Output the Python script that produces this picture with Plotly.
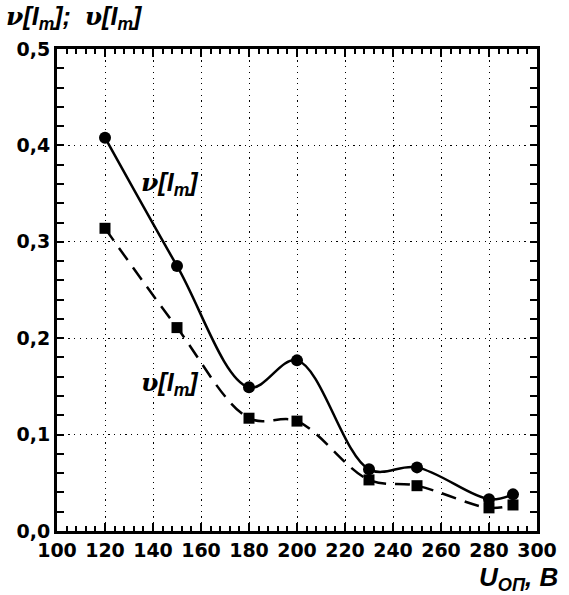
import plotly.graph_objects as go

# Data
u_op = [120, 150, 180, 200, 230, 250, 280, 290]
nu_vals = [0.408, 0.275, 0.149, 0.177, 0.064, 0.066, 0.033, 0.038]
upsilon_vals = [0.314, 0.211, 0.117, 0.114, 0.053, 0.047, 0.024, 0.027]

x_range = [100, 300]
y_range = [0.0, 0.5]
x_major, x_minor = 20, 4
y_major, y_minor = 0.1, 0.02

FONT = "Liberation Sans"

fig = go.Figure()
fig.add_trace(go.Scatter(
    x=u_op, y=nu_vals, mode="lines+markers",
    line=dict(color="black", width=2.5, shape="spline", smoothing=1.0),
    marker=dict(symbol="circle", size=12, color="black"),
    showlegend=False))
fig.add_trace(go.Scatter(
    x=u_op, y=upsilon_vals, mode="lines+markers",
    line=dict(color="black", width=2.5, shape="spline", smoothing=1.0, dash="15px,9px"),
    marker=dict(symbol="square", size=11, color="black"),
    showlegend=False))

axis_common = dict(
    showline=True, linecolor="black", linewidth=3, mirror="ticks",
    ticks="inside", tickcolor="black", tickwidth=1.5,
    showgrid=True, gridcolor="black", gridwidth=1.2, griddash="1.2px,4.5px",
    zeroline=False,
    tickfont=dict(family="DejaVu Sans", size=19, color="black", weight="bold"),
)

fig.update_xaxes(range=x_range, tickmode="linear", tick0=x_range[0], dtick=x_major, ticklen=8,
                 minor=dict(tickmode="linear", tick0=x_range[0], dtick=x_minor, ticks="inside", ticklen=5,
                            tickcolor="black", tickwidth=1.5, showgrid=False),
                 **axis_common)
fig.update_yaxes(range=y_range, tickmode="linear", tick0=0, dtick=y_major, tickformat=".1f", ticklen=7,
                 minor=dict(tickmode="linear", tick0=0, dtick=y_minor, ticks="inside", ticklen=7,
                            tickcolor="black", tickwidth=1.5, showgrid=False),
                 **axis_common)

sym = '<span style="font-family:DejaVu Serif">'
fig.add_annotation(xref="paper", yref="paper", x=-54/485, y=1 + 31/482, xanchor="left", yanchor="middle",
                   text="<b><i>" + sym + "ν</span>[I<sub>m</sub>];  " + sym + "υ</span>[I<sub>m</sub>]</i></b>",
                   showarrow=False, font=dict(family=FONT, size=25, color="black"))
fig.add_annotation(xref="paper", yref="paper", x=1 + 23/485, y=-47/482, xanchor="right", yanchor="middle",
                   text="<b><i>U<sub>ОП</sub>, В</i></b>",
                   showarrow=False, font=dict(family=FONT, size=26, color="black"))
fig.add_annotation(x=134, y=0.36, xanchor="left", yanchor="middle",
                   text="<b><i>" + sym + "ν</span>[I<sub>m</sub>]</i></b>",
                   showarrow=False, font=dict(family=FONT, size=25, color="black"))
fig.add_annotation(x=134, y=0.153, xanchor="left", yanchor="middle",
                   text="<b><i>" + sym + "υ</span>[I<sub>m</sub>]</i></b>",
                   showarrow=False, font=dict(family=FONT, size=25, color="black"))

fig.update_layout(
    width=569, height=595,
    margin=dict(l=57, r=27, t=49, b=64),
    paper_bgcolor="white", plot_bgcolor="white",
    separators=", ",
)

fig.write_html("out.html")
